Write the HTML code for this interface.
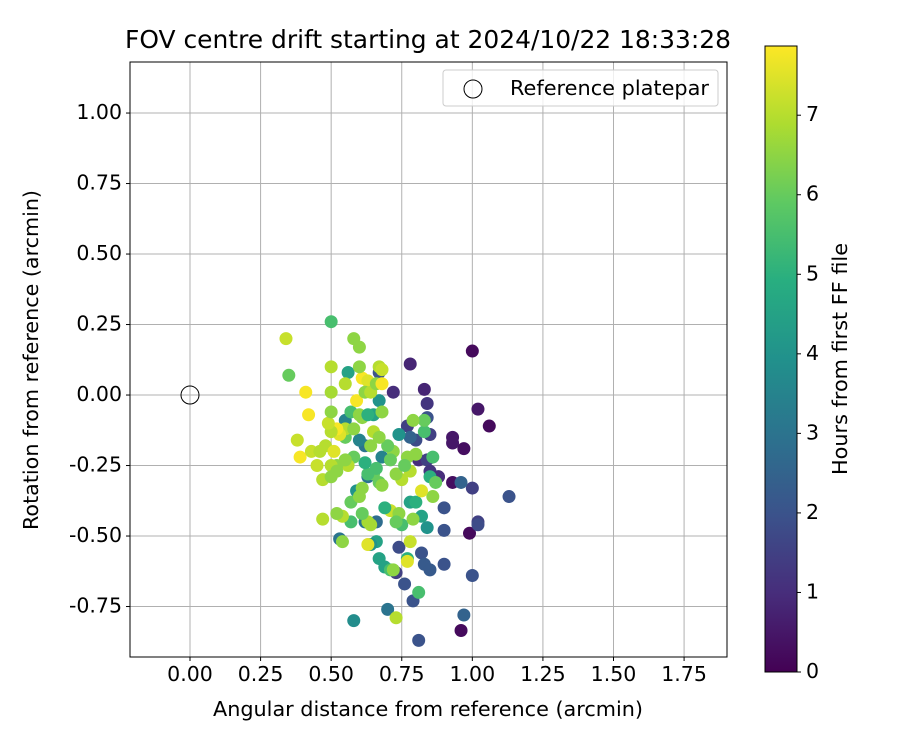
<!DOCTYPE html>
<html><head><meta charset="utf-8"><style>
body{margin:0;background:#fff;}
svg text{font-family:"DejaVu Sans","Liberation Sans",sans-serif;fill:#000;}
</style></head><body>
<svg id="chart" width="900" height="750" xmlns="http://www.w3.org/2000/svg">
<defs><linearGradient id="vir" x1="0" y1="1" x2="0" y2="0">
<stop offset="0" stop-color="#440154"/><stop offset="0.125" stop-color="#472d7b"/><stop offset="0.25" stop-color="#3b528b"/><stop offset="0.375" stop-color="#2c728e"/><stop offset="0.5" stop-color="#21918c"/><stop offset="0.625" stop-color="#28ae80"/><stop offset="0.75" stop-color="#5ec962"/><stop offset="0.875" stop-color="#addc30"/><stop offset="1" stop-color="#fde725"/></linearGradient></defs>
<text x="428" y="48" font-size="24.5" text-anchor="middle" textLength="606" lengthAdjust="spacingAndGlyphs">FOV centre drift starting at 2024/10/22 18:33:28</text>
<g id="grid"></g><g id="pts"></g>
<rect x="130" y="62" width="597" height="595" fill="none" stroke="#000" stroke-width="1"/>
<g id="ticks"></g>
<text x="428" y="716" font-size="20.5" text-anchor="middle" textLength="430" lengthAdjust="spacingAndGlyphs">Angular distance from reference (arcmin)</text>
<text transform="translate(38,360) rotate(-90)" font-size="20.5" text-anchor="middle" textLength="340" lengthAdjust="spacingAndGlyphs">Rotation from reference (arcmin)</text>
<g>
<rect x="443" y="70" width="275" height="36" rx="3" fill="#fff" fill-opacity="0.8" stroke="#ccc"/>
<circle cx="473" cy="89" r="9" fill="none" stroke="#000"/>
<text x="510" y="95" font-size="20.5" textLength="199" lengthAdjust="spacingAndGlyphs">Reference platepar</text></g>
<rect x="765" y="46" width="32" height="626" fill="url(#vir)" stroke="#000"/>
<g id="cbticks"></g>
<text transform="translate(847,359) rotate(-90)" font-size="20.5" text-anchor="middle" textLength="232" lengthAdjust="spacingAndGlyphs">Hours from first FF file</text>
</svg>
<script>
const xTicks=[0,0.25,0.5,0.75,1.0,1.25,1.5,1.75];
const yTicks=[-0.75,-0.5,-0.25,0,0.25,0.5,0.75,1.0];
const cbTicks=[0,1,2,3,4,5,6,7];
const refX=[0],refY=[0];
const xs=[1.0,0.96,1.06,1.02,0.97,0.93,0.93,0.99,0.93,0.88,0.78,0.72,0.83,0.84,1.13,1.0,0.96,1.02,1.02,0.9,0.9,0.9,1.0,0.97,0.81,0.79,0.76,0.73,0.74,0.82,0.83,0.85,0.84,0.85,0.77,0.80,0.78,0.81,0.84,0.85,0.88,0.67,0.66,0.62,0.53,0.58,0.70,0.62,0.63,0.68,0.59,0.55,0.60,0.67,0.65,0.56,0.81,0.77,0.67,0.69,0.66,0.64,0.71,0.75,0.82,0.84,0.78,0.80,0.85,0.86,0.87,0.86,0.83,0.83,0.79,0.80,0.77,0.75,0.73,0.72,0.70,0.71,0.74,0.73,0.72,0.73,0.77,0.78,0.79,0.82,0.78,0.63,0.63,0.64,0.61,0.57,0.54,0.54,0.52,0.57,0.60,0.61,0.67,0.68,0.65,0.63,0.62,0.66,0.64,0.58,0.56,0.55,0.52,0.50,0.47,0.47,0.48,0.51,0.52,0.50,0.55,0.55,0.53,0.52,0.50,0.49,0.50,0.57,0.58,0.60,0.61,0.63,0.65,0.67,0.68,0.61,0.63,0.59,0.62,0.64,0.66,0.68,0.67,0.68,0.60,0.60,0.58,0.50,0.50,0.55,0.50,0.34,0.35,0.41,0.42,0.38,0.39,0.43,0.46,0.45,0.71,0.74,0.76,0.69];
const ys=[0.156,-0.835,-0.11,-0.05,-0.19,-0.15,-0.17,-0.49,-0.31,-0.29,0.11,0.01,0.02,-0.03,-0.36,-0.33,-0.31,-0.45,-0.46,-0.48,-0.6,-0.4,-0.64,-0.78,-0.87,-0.73,-0.67,-0.63,-0.54,-0.56,-0.6,-0.62,-0.08,-0.14,-0.11,-0.16,-0.15,-0.23,-0.23,-0.27,-0.29,0.08,-0.45,-0.45,-0.51,-0.8,-0.76,-0.18,-0.29,-0.22,-0.34,-0.09,-0.16,-0.02,-0.07,0.08,-0.70,-0.58,-0.58,-0.61,-0.52,-0.53,-0.62,-0.46,-0.43,-0.47,-0.38,-0.38,-0.29,-0.22,-0.31,-0.36,-0.13,-0.09,-0.09,-0.21,-0.22,-0.30,-0.28,-0.20,-0.18,-0.41,-0.42,-0.45,-0.62,-0.79,-0.59,-0.52,-0.44,-0.34,-0.27,-0.53,-0.45,-0.46,-0.42,-0.45,-0.52,-0.43,-0.42,-0.38,-0.36,-0.33,-0.31,-0.32,-0.28,-0.28,-0.24,-0.26,-0.18,-0.22,-0.25,-0.23,-0.25,-0.25,-0.30,-0.44,-0.18,-0.20,-0.27,-0.29,-0.15,-0.12,-0.14,-0.12,-0.13,-0.10,-0.06,-0.06,-0.12,-0.07,-0.08,-0.07,-0.13,-0.15,-0.06,0.06,0.05,-0.02,0.01,0.01,0.04,0.04,0.10,0.09,0.10,0.17,0.20,0.26,0.10,0.04,0.01,0.20,0.07,0.01,-0.07,-0.16,-0.22,-0.20,-0.20,-0.25,-0.23,-0.14,-0.25,-0.40];
const hours=[0.2,0.2,0.2,0.5,0.3,0.5,0.5,0.2,0.3,0.3,0.8,1.0,0.8,1.2,2.0,1.5,2.5,1.5,1.8,2.0,2.0,2.0,2.0,2.5,2.0,2.0,2.0,1.5,1.8,2.0,2.2,2.2,2.0,1.5,1.5,1.8,2.5,1.0,1.5,1.2,1.0,2.0,2.8,3.0,3.0,3.8,3.0,3.0,3.0,3.5,4.0,3.5,3.5,4.0,4.5,4.5,5.5,5.0,4.5,4.5,4.5,4.0,5.5,5.5,4.5,4.0,4.5,5.0,5.0,5.5,6.0,6.5,5.5,6.0,6.5,6.5,6.5,7.0,6.5,6.5,6.0,7.2,6.5,6.0,6.5,7.0,7.5,7.2,6.5,7.5,7.0,7.5,6.8,6.8,6.0,5.5,6.5,7.0,6.5,6.0,6.5,6.5,6.0,6.5,6.0,5.5,5.0,5.5,6.5,6.0,7.0,6.5,6.5,7.0,7.0,7.0,7.0,7.5,6.5,6.5,6.0,7.0,7.5,7.8,7.0,7.2,6.5,5.5,6.5,6.5,6.5,5.0,7.0,6.5,6.5,7.8,7.5,7.8,6.5,7.0,6.5,7.8,7.0,7.2,6.5,6.5,6.5,5.5,7.0,7.0,6.8,7.2,6.0,7.8,7.8,7.2,7.8,7.2,7.0,7.2,6.0,4.0,6.0,5.0];
const NS="http://www.w3.org/2000/svg";
const X0=130,X1=727,Y0=62,Y1=657,xmin=-0.2125,xmax=1.902,ymin=-0.929,ymax=1.181;
const cmin=0,cmax=7.87;
function sx(v){return X0+(v-xmin)/(xmax-xmin)*(X1-X0);}
function sy(v){return Y1-(v-ymin)/(ymax-ymin)*(Y1-Y0);}
function sc(v){return 672-(v-cmin)/(cmax-cmin)*626;}
const stops=[[68,1,84],[71,45,123],[59,82,139],[44,114,142],[33,145,140],[40,174,128],[94,201,98],[173,220,48],[253,231,37]];
function vir(h){let t=Math.max(0,Math.min(1,(h-cmin)/(cmax-cmin)))*8;let i=Math.min(7,Math.floor(t)),f=t-i;
const a=stops[i],b=stops[i+1];return 'rgb('+a.map((c,k)=>Math.round(c+(b[k]-c)*f)).join(',')+')';}
function mk(tag,attrs,parent){const e=document.createElementNS(NS,tag);for(const k in attrs)e.setAttribute(k,attrs[k]);parent.appendChild(e);return e;}
const grid=document.getElementById('grid'),ticks=document.getElementById('ticks'),pts=document.getElementById('pts'),cb=document.getElementById('cbticks');
xTicks.forEach(v=>{const x=sx(v);
const g=mk('line',{x1:x,x2:x,y1:Y0,y2:Y1,stroke:'#b0b0b0','stroke-width':1},grid);


mk('line',{x1:x,x2:x,y1:Y1,y2:Y1+4,stroke:'#000'},ticks);
const t=mk('text',{x:x,y:Y1+24,'font-size':20.5,'text-anchor':'middle'},ticks);t.textContent=v.toFixed(2);

});
yTicks.forEach(v=>{const y=sy(v);
const g=mk('line',{x1:X0,x2:X1,y1:y,y2:y,stroke:'#b0b0b0','stroke-width':1},grid);


mk('line',{x1:X0-4,x2:X0,y1:y,y2:y,stroke:'#000'},ticks);
const t=mk('text',{x:X0-8,y:y+6,'font-size':20.5,'text-anchor':'end'},ticks);t.textContent=v.toFixed(2);

});
cbTicks.forEach(v=>{const y=sc(v);
mk('line',{x1:797,x2:801,y1:y,y2:y,stroke:'#000'},cb);
const t=mk('text',{x:806,y:y+6,'font-size':20.5},cb);t.textContent=v;

});
xs.forEach((v,i)=>{const c=mk('circle',{cx:sx(v),cy:sy(ys[i]),r:6.5,fill:vir(hours[i])},pts);

});
refX.forEach((v,i)=>{const c=mk('circle',{cx:sx(v),cy:sy(refY[i]),r:9,fill:'none',stroke:'#000'},pts);

});
</script>
</body></html>
